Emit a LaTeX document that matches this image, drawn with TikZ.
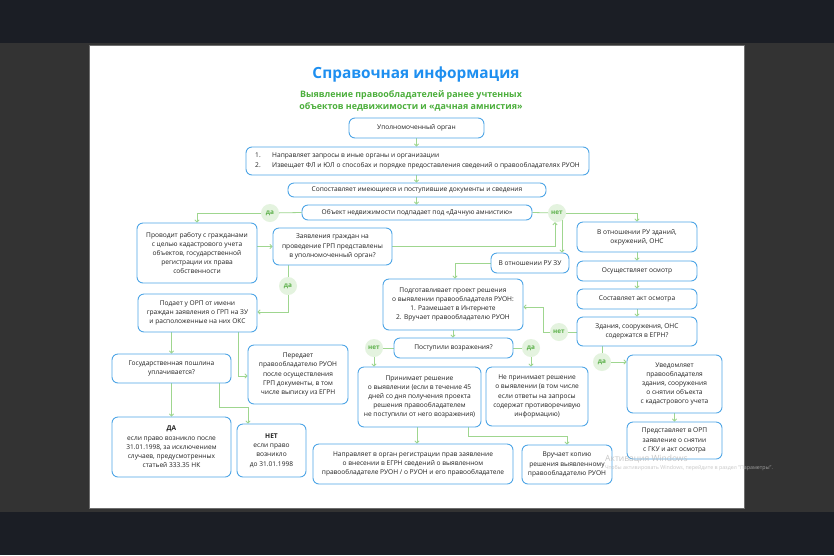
\documentclass[tikz,border=0pt]{standalone}
\usepackage{fontspec}
\setmainfont{Open Sans}
\usetikzlibrary{arrows.meta}
\definecolor{bandDark}{HTML}{1B1E25}
\definecolor{bandMid}{HTML}{333333}
\definecolor{slideEdge}{HTML}{6E6E6E}
\definecolor{titleBlue}{HTML}{1E8FF0}
\definecolor{subGreen}{HTML}{4CAF3C}
\definecolor{boxBlue}{HTML}{4EA5E6}
\definecolor{wireGreen}{HTML}{9FD68F}
\definecolor{decFill}{HTML}{E4F3DF}
\definecolor{decText}{HTML}{5CB04A}
\definecolor{txt}{HTML}{222222}
\pgfdeclarelayer{back}
\pgfdeclarelayer{wires}
\pgfsetlayers{back,wires,main}
\tikzset{
  box/.style={draw=boxBlue, line width=0.9pt, rounded corners=6pt, fill=white,
    align=center, inner sep=0pt, text=txt, font=\fontsize{6.6}{9.2}\selectfont},
  dec/.style={circle, fill=decFill, minimum size=18pt, inner sep=0pt,
    text=decText, font=\fontsize{6.4}{7}\selectfont\bfseries},
  wire/.style={draw=wireGreen, line width=0.8pt},
  arr/.style={wire, -{Straight Barb[length=2.2pt,width=4.4pt]}},
}
\begin{document}
\begin{tikzpicture}[x=1pt,y=-1pt]
\useasboundingbox (0,0) rectangle (834,555);
\begin{pgfonlayer}{back}
  \fill[bandDark] (0,0) rectangle (834,555);
  \fill[bandMid] (0,43) rectangle (834,512);
  \fill[white] (89,45) rectangle (744,508);
  \draw[slideEdge, line width=0.8pt] (89,45) rectangle (744,508);
\end{pgfonlayer}

% titles
\node[text=titleBlue, font=\fontsize{15.4}{19}\selectfont\bfseries] (title) at (416,74) {Справочная информация};
\node[text=subGreen, align=center, font=\fontsize{8.9}{12}\selectfont\bfseries] (subtitle) at (411,100.5)
  {Выявление правообладателей ранее учтенных\\объектов недвижимости и «дачная амнистия»};

% boxes
\node[box, minimum width=135pt, minimum height=20pt] (org) at (416.5,128) {Уполномоченный орган};
\node[box, minimum width=343pt, minimum height=28pt, align=left] (napr) at (417.5,161)
  {\makebox[17pt][l]{1.}Направляет запросы в иные органы и организации\\
   \makebox[17pt][l]{2.}Извещает ФЛ и ЮЛ о способах и порядке предоставления сведений о правообладателях РУОН};
\node[box, minimum width=258pt, minimum height=14pt] (sopost) at (417,190) {Сопоставляет имеющиеся и поступившие документы и сведения};
\node[box, minimum width=230pt, minimum height=15pt] (obj) at (417,212.5) {Объект недвижимости подпадает под «Дачную амнистию»};
\node[box, minimum width=120pt, minimum height=60pt] (provodit) at (197,253)
  {Проводит работу с гражданами\\с целью кадастрового учета\\объектов, государственной\\регистрации их права\\собственности};
\node[box, minimum width=119pt, minimum height=37pt] (zayav) at (332.5,246.5)
  {Заявления граждан на\\проведение ГРП представлены\\в уполномоченный орган?};
\node[box, minimum width=120pt, minimum height=30pt] (ruzd) at (637,237) {В отношении РУ зданий,\\окружений, ОНС};
\node[box, minimum width=78pt, minimum height=20pt] (ruzu) at (530,263) {В отношении РУ ЗУ};
\node[box, minimum width=120pt, minimum height=20pt] (osmotr) at (637,271) {Осуществляет осмотр};
\node[box, minimum width=120pt, minimum height=20pt] (akt) at (637,299) {Составляет акт осмотра};
\node[box, minimum width=120pt, minimum height=29pt] (zdan) at (637,331.5) {Здания, сооружения, ОНС\\содержатся в ЕГРН?};
\node[box, minimum width=140pt, minimum height=51pt] (podgot) at (453,304.5)
  {Подготавливает проект решения\\о выявлении правообладателя РУОН:\\1. Размешает в Интернете\\2. Вручает правообладателю РУОН};
\node[box, minimum width=119pt, minimum height=38pt] (podaet) at (197.5,313)
  {Подает у ОРП от имени\\граждан заявления о ГРП на ЗУ\\и расположенные на них ОКС};
\node[box, minimum width=119pt, minimum height=29pt] (poshl) at (171.5,368.5) {Государственная пошлина\\уплачивается?};
\node[box, minimum width=100pt, minimum height=59pt] (peredaet) at (298,374.5)
  {Передает\\правообладателю РУОН\\после осуществления\\ГРП документы, в том\\числе выписку из ЕГРН};
\node[box, minimum width=119pt, minimum height=60pt] (dabox) at (171.5,447)
  {\textbf{ДА}\\если право возникло после\\31.01.1998, за исключением\\случаев, предусмотренных\\статьей 333.35 НК};
\node[box, minimum width=69pt, minimum height=53pt] (netbox) at (271.5,450.5)
  {\textbf{НЕТ}\\если право\\возникло\\до 31.01.1998};
\node[box, minimum width=119pt, minimum height=20pt] (postup) at (453.5,348) {Поступили возражения?};
\node[box, minimum width=123pt, minimum height=60pt] (prinim) at (419.5,397)
  {Принимает решение\\о выявлении (если в течение 45\\дней со дня получения проекта\\решения правообладателем\\не поступили от него возражения)};
\node[box, minimum width=102pt, minimum height=59pt] (neprinim) at (537,396.5)
  {Не принимает решение\\о выявлении (в том числе\\если ответы на запросы\\содержат противоречивую\\информацию)};
\node[box, minimum width=200pt, minimum height=40pt] (napr2) at (413,464)
  {Направляет в орган регистрации прав заявление\\о внесении в ЕГРН сведений о выявленном\\правообладателе РУОН / о РУОН и его правообладателе};
\node[box, minimum width=90pt, minimum height=39pt] (vruch) at (567,464.5)
  {Вручает копию\\решения выявленному\\правообладателю РУОН};
\node[box, minimum width=95pt, minimum height=58pt] (uved) at (674.5,384)
  {Уведомляет\\правообладателя\\здания, сооружения\\о снятии объекта\\с кадастрового учета};
\node[box, minimum width=95pt, minimum height=37pt] (predst) at (674.5,440.5)
  {Представляет в ОРП\\заявление о снятии\\с ГКУ и акт осмотра};

% decision circles
\node[dec] (c1) at (270,213) {да};
\node[dec] (c2) at (557,213) {нет};
\node[dec] (c3) at (288,286) {да};
\node[dec] (c4) at (559,332) {нет};
\node[dec] (c5) at (374,348) {нет};
\node[dec] (c6) at (531,348) {да};
\node[dec] (c7) at (602,362) {да};

% connectors
\begin{pgfonlayer}{wires}
  \draw[arr] (org.south) -- (org.south |- napr.north);
  \draw[arr] (org.south |- napr.south) -- (org.south |- sopost.north);
  \draw[arr] (org.south |- sopost.south) -- (org.south |- obj.north);
  \draw[wire] (obj.west) -- (c1.center);
  \draw[arr] (c1.center) -| (provodit.north);
  \draw[wire] (obj.east) -- (c2.center);
  \draw[arr] (c2.center) -| (ruzd.north);
  \draw[arr] (zayav.east) -| ([xshift=-2pt]c2.south);
  \draw[arr] ([xshift=5pt]c2.center) -- ([xshift=5pt]c2.center |- ruzu.north);
  \draw[arr] (provodit.east |- zayav.west) -- (zayav.west);
  \draw[wire] (c3.center |- zayav.south) -- (c3.center);
  \draw[arr] (c3.center) |- ([yshift=1pt]podaet.east);
  \draw[arr] (ruzu.west) -| ([xshift=2pt]podgot.north);
  \draw[arr] (ruzd.south) -- (osmotr.north);
  \draw[arr] (osmotr.south) -- (akt.north);
  \draw[arr] (akt.south) -- (zdan.north);
  \draw[wire] (zdan.west |- c4.center) -- (c4.center);
  \draw[arr] (c4.center) -- ++(-16,0) |- ([yshift=-2.5pt]podgot.east);
  \draw[wire] (c7.center |- zdan.south) -- (c7.center);
  \draw[arr] (c7.center) -- (c7.center -| uved.west);
  \draw[arr] (uved.south) -- (predst.north);
  \draw[arr] (podgot.south) -- (podgot.south |- postup.north);
  \draw[wire] (postup.west) -- (c5.center);
  \draw[arr] (c5.center) -- (c5.center |- prinim.north);
  \draw[wire] (postup.east) -- (c6.center);
  \draw[arr] (c6.center) -- (c6.center |- neprinim.north);
  \draw[arr] ([xshift=-2.5pt]prinim.south) -- ([xshift=-2.5pt]prinim.south |- napr2.north);
  \draw[arr] ([xshift=48.5pt]prinim.south) -- ++(0,9) -| (vruch.north);
  \draw[arr] (poshl.north |- podaet.south) -- (poshl.north);
  \draw[arr] ([xshift=40.5pt]podaet.south) |- ([yshift=-1.5pt]peredaet.west);
  \draw[arr] (poshl.south) -- (dabox.north);
  \draw[arr] ([xshift=47.5pt]poshl.south) -- ++(0,24) -| ([xshift=-23.5pt]netbox.north);
\end{pgfonlayer}

% watermark
\node[anchor=west, inner sep=0pt, text=gray!55, opacity=0.8, font=\fontsize{8.5}{10}\selectfont] (wm1) at (605,459) {Активация Windows};
\node[anchor=west, inner sep=0pt, text=gray!55, opacity=0.8, font=\fontsize{5.3}{6}\selectfont] (wm2) at (605,468) {Чтобы активировать Windows, перейдите в раздел "Параметры".};
\end{tikzpicture}
\end{document}
